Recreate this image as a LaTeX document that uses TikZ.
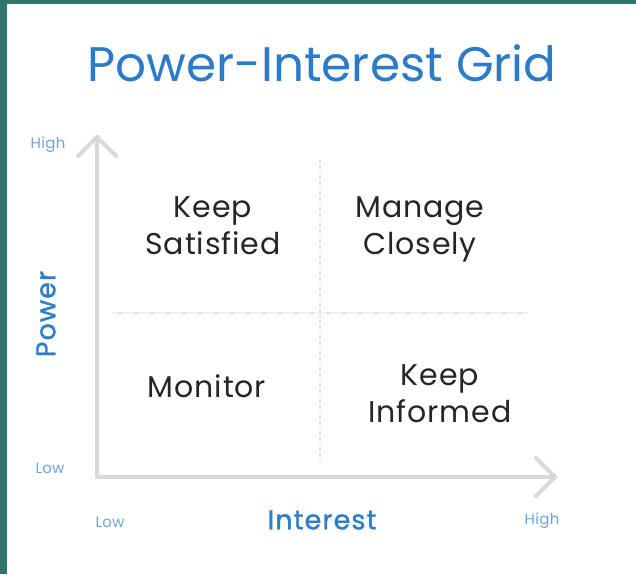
\documentclass[tikz,border=0pt]{standalone}
\usepackage{fontspec}
\setmainfont{Poppins}
\newfontfamily\semib[FakeBold=1.3,LetterSpace=4]{Poppins}
\newfontfamily\quadf[LetterSpace=3]{Poppins}
\newfontfamily\smallf[LetterSpace=2]{Poppins}
\definecolor{teal}{HTML}{2E766E}
\definecolor{ttl}{HTML}{2B7BC8}
\definecolor{lab}{HTML}{2F7DC9}
\definecolor{small}{HTML}{6AA5DC}
\definecolor{axis}{HTML}{D8D8D8}
\definecolor{grid}{HTML}{D2D2D2}
\begin{document}
\begin{tikzpicture}[x=1pt,y=-1pt,
  axisline/.style={draw=axis,line width=4pt,line cap=round,line join=round},
  gridline/.style={draw=grid,line width=1.2pt,dotted},
  quad/.style={align=center,font=\fontsize{30}{37}\quadf,text=black!85,inner sep=0pt},
  smalllab/.style={font=\fontsize{15}{17}\smallf,text=small,inner sep=0pt},
  axlab/.style={font=\fontsize{27}{30}\semib,text=lab,inner sep=0pt}]
\useasboundingbox (0,0) rectangle (636,574);
\fill[white] (0,0) rectangle (636,574);
\fill[teal] (0,0) rectangle (636,4);
\fill[teal] (0,0) rectangle (7,574);
% title
\node[font=\fontsize{48.5}{54}\selectfont,text=ttl,inner sep=0pt,anchor=base] (title) at (322,81) {Power-Interest Grid};
% grid
\coordinate (hl) at (113,313);
\coordinate (hr) at (528,313);
\coordinate (vt) at (320,160);
\coordinate (vb) at (320,462);
\draw[gridline] (hl) -- (hr);
\draw[gridline] (vt) -- (vb);
% axes
\coordinate (origin) at (97,477);
\coordinate (ytip) at (97,137);
\coordinate (xtip) at (555,477);
\coordinate (yl) at (78,156);
\coordinate (yr) at (116,156);
\coordinate (xu) at (536,458);
\coordinate (xd) at (536,496);
\draw[axisline] (origin) -- (ytip);
\draw[axisline] (yl) -- (ytip) -- (yr);
\draw[axisline] (origin) -- (xtip);
\draw[axisline] (xu) -- (xtip) -- (xd);
% quadrant labels
\node[quad] (ks) at (213,226) {Keep\\Satisfied};
\node[quad] (mc) at (420,229) {Manage\\Closely};
\node[quad] (mo) at (207,386) {Monitor};
\node[quad] (ki) at (440,394) {Keep\\Informed};
% axis labels
\node[axlab,rotate=90] (pw) at (46,314) {Power};
\node[axlab] (in) at (322,520) {Interest};
\node[smalllab] (yh) at (48,145) {High};
\node[smalllab] (ylo) at (50,468) {Low};
\node[smalllab] (xlo) at (110,522) {Low};
\node[smalllab] (xh) at (542,521) {High};
\end{tikzpicture}
\end{document}
